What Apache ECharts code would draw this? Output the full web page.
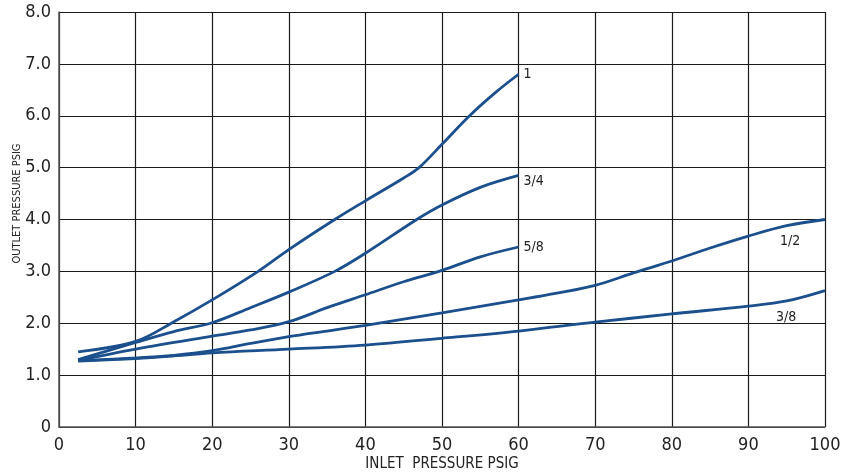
<!DOCTYPE html>
<html>
<head>
<meta charset="utf-8">
<script src="https://cdn.jsdelivr.net/npm/echarts@6/dist/echarts.min.js"></script>
<style>
html,body{margin:0;padding:0;background:#fff;}
#chart{width:853px;height:474px;}
</style>
</head>
<body>
<div id="chart"></div>
<script>
// Inlet pressure (x) and outlet pressure (y) for each valve size
const sizeNames = ['1', '3/4', '5/8', '1/2', '3/8'];

const inlet1  = [2.5, 10, 15, 20, 26, 30, 36, 40, 45, 47, 50, 53.6, 57, 60];
const outlet1 = [1.45, 1.65, 2.03, 2.45, 3.0, 3.42, 4.0, 4.36, 4.8, 5.0, 5.45, 6.0, 6.45, 6.8];

const inlet34  = [2.5, 10, 15, 20, 25, 30, 36, 40, 46.7, 50, 55, 60];
const outlet34 = [1.3, 1.63, 1.84, 2.01, 2.3, 2.6, 3.0, 3.35, 4.0, 4.28, 4.62, 4.85];

const inlet58  = [2.5, 10, 20, 25, 30, 35, 40, 45, 50, 55, 60];
const outlet58 = [1.28, 1.5, 1.75, 1.87, 2.03, 2.3, 2.55, 2.8, 3.02, 3.28, 3.47];

const inlet12  = [2.5, 10, 15, 20, 25, 30, 35, 40, 50, 60, 65, 70, 75, 80, 85, 90, 95, 100];
const outlet12 = [1.28, 1.33, 1.38, 1.47, 1.61, 1.74, 1.85, 1.96, 2.2, 2.45, 2.58, 2.73, 2.97, 3.2, 3.45, 3.68, 3.88, 4.0];

const inlet38  = [2.5, 10, 15, 20, 30, 40, 50, 60, 70, 80, 90, 95, 100];
const outlet38 = [1.27, 1.32, 1.37, 1.43, 1.5, 1.58, 1.71, 1.85, 2.02, 2.18, 2.33, 2.43, 2.63];

const xTicks = [0, 10, 20, 30, 40, 50, 60, 70, 80, 90, 100];
const yTickLabels = ['0', '1.0', '2.0', '3.0', '4.0', '5.0', '6.0', '7.0', '8.0'];

const xs = [inlet1, inlet34, inlet58, inlet12, inlet38];
const ys = [outlet1, outlet34, outlet58, outlet12, outlet38];

const FONT = '"Liberation Sans Narrow", "DejaVu Sans Condensed", "Roboto Condensed", sans-serif';
const LINE = '#1b4f8d';

const labelOffsets = [[0, 0], [0, 6], [0, 0], [-50, 22], [-54, 27]];

const series = sizeNames.map((name, i) => ({
  name: name,
  type: 'line',
  smooth: 0.35,
  symbol: 'none',
  data: xs[i].map((x, j) => [x, ys[i][j]]),
  lineStyle: { color: LINE, width: 2.8 },
  itemStyle: { color: LINE },
  endLabel: {
    show: true,
    formatter: name,
    color: '#222',
    fontFamily: FONT,
    fontSize: 14,
    distance: 5,
    offset: labelOffsets[i]
  },
  z: 3
}));

const chart = echarts.init(document.getElementById('chart'), null, { renderer: 'canvas' });
chart.setOption({
  animation: false,
  backgroundColor: '#ffffff',
  grid: { left: 59, right: 28, top: 12, bottom: 47, containLabel: false, outerBoundsMode: 'none' },
  xAxis: {
    type: 'value',
    min: 0, max: 100, interval: 10,
    name: 'INLET  PRESSURE PSIG',
    nameLocation: 'middle',
    nameGap: 30,
    nameMoveOverlap: false,
    nameTextStyle: { fontFamily: FONT, fontSize: 15, color: '#222' },
    axisLine: { show: true, lineStyle: { color: '#555', width: 1.5 } },
    axisTick: { show: false },
    axisLabel: {
      margin: 9, fontFamily: FONT, fontSize: 18, color: '#222',
      formatter: v => (xTicks.indexOf(v) >= 0 ? String(v) : '')
    },
    splitLine: { show: true, lineStyle: { color: '#1a1a1a', width: 1.2 } }
  },
  yAxis: {
    type: 'value',
    min: 0, max: 8, interval: 1,
    name: 'OUTLET PRESSURE PSIG',
    nameLocation: 'middle',
    nameGap: 36,
    nameMoveOverlap: false,
    nameRotate: 90,
    nameTextStyle: { fontFamily: FONT, fontSize: 11, color: '#222', padding: [0, 0, 0, 32] },
    axisLine: { show: true, lineStyle: { color: '#555', width: 1.5 } },
    axisTick: { show: false },
    axisLabel: {
      margin: 8, fontFamily: FONT, fontSize: 18, color: '#222',
      formatter: v => yTickLabels[Math.round(v)]
    },
    splitLine: { show: true, lineStyle: { color: '#1a1a1a', width: 1.2 } }
  },
  series: series
});
</script>
</body>
</html>
